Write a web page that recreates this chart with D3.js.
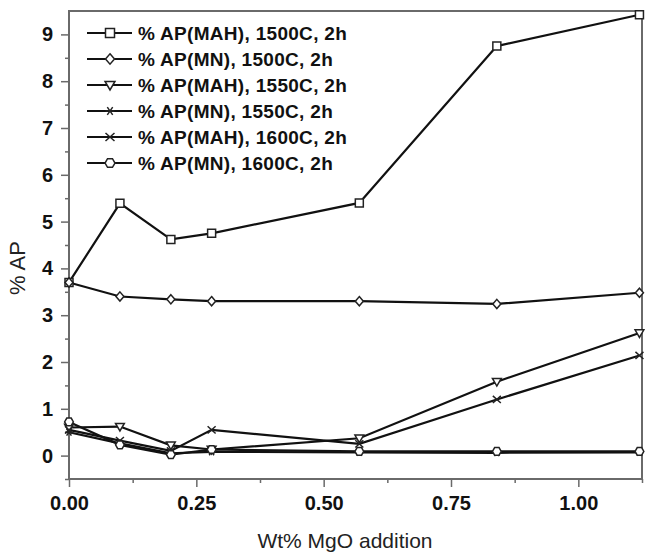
<!DOCTYPE html>
<html><head><meta charset="utf-8">
<script src="https://cdn.jsdelivr.net/npm/d3@7"></script>
<style>body{margin:0;background:#fff}</style>
</head><body><svg id="c" width="645" height="554"></svg>
<script>
const xValues = [0, 0.1, 0.2, 0.28, 0.57, 0.84, 1.12];
const mah1500 = [3.70, 5.39, 4.62, 4.75, 5.40, 8.75, 9.42];
const mn1500  = [3.70, 3.40, 3.34, 3.30, 3.30, 3.24, 3.48];
const mah1550 = [0.60, 0.62, 0.22, 0.13, 0.37, 1.58, 2.62];
const mn1550  = [0.50, 0.26, 0.05, 0.08, 0.07, 0.06, 0.07];
const mah1600 = [0.55, 0.32, 0.10, 0.55, 0.25, 1.20, 2.14];
const mn1600  = [0.72, 0.23, 0.02, 0.13, 0.09, 0.09, 0.09];
const seriesNames = ["% AP(MAH), 1500C, 2h","% AP(MN), 1500C, 2h","% AP(MAH), 1550C, 2h","% AP(MN), 1550C, 2h","% AP(MAH), 1600C, 2h","% AP(MN), 1600C, 2h"];
const seriesMarkers = ["square","diamond","triangle","asterisk","cross","hexagon"];
const xTicks = [0, 0.25, 0.5, 0.75, 1.0];
const xMinor = [0.125, 0.375, 0.625, 0.875, 1.125];
const yTicks = [0,1,2,3,4,5,6,7,8,9];
const yMinor = [-0.5,0.5,1.5,2.5,3.5,4.5,5.5,6.5,7.5,8.5];
const xTitle = "Wt% MgO addition";
const yTitle = "% AP";

const allSeries = [mah1500, mn1500, mah1550, mn1550, mah1600, mn1600];
const svg = d3.select("#c");
const L = 69, R = 642, T = 11, B = 479;
const x = d3.scaleLinear().domain([0, 1.125]).range([L, R]);
const y = d3.scaleLinear().domain([-0.5, 9.5]).range([B, T]);
const axisColor = "#6a6a6a";

function markerPath(type, s) {
  const h = s / 2;
  switch (type) {
    case "square": return `M${-h},${-h}H${h}V${h}H${-h}Z`;
    case "diamond": return `M0,${-h*1.15}L${h*1.0},0L0,${h*1.15}L${-h*1.0},0Z`;
    case "triangle": return `M${-h*1.1},${-h*0.8}L${h*1.1},${-h*0.8}L0,${h*1.1}Z`;
    case "asterisk": {
      let p = `M${-h},0L${h},0`;
      p += `M${-h*0.6},${-h*0.85}L${h*0.6},${h*0.85}M${h*0.6},${-h*0.85}L${-h*0.6},${h*0.85}`;
      return p;
    }
    case "cross": return `M${-h},${-h*0.9}L${h},${h*0.9}M${h},${-h*0.9}L${-h},${h*0.9}`;
    case "hexagon": {
      const pts = d3.range(6).map(i => { const a = Math.PI/3*i; return [h*1.1*Math.cos(a), h*1.1*Math.sin(a)]; });
      return "M" + pts.map(p => p.join(",")).join("L") + "Z";
    }
  }
}

// frame
svg.append("rect").attr("x", L).attr("y", T).attr("width", R - L).attr("height", B - T)
  .attr("fill", "none").attr("stroke", axisColor).attr("stroke-width", 2);

// y axis
const yAx = svg.append("g").attr("transform", `translate(${L},0)`)
  .call(d3.axisLeft(y).tickValues(yTicks).tickSize(8).tickSizeOuter(0).tickPadding(8).tickFormat(d3.format("d")));
yAx.select(".domain").remove();
yAx.selectAll("line").attr("stroke", axisColor).attr("stroke-width", 1.5);
yAx.selectAll("text").attr("font-family", "Liberation Sans, Arial, sans-serif").attr("font-weight", "bold").attr("font-size", 20).attr("fill", "#111");
const yMin = svg.append("g").attr("transform", `translate(${L},0)`)
  .call(d3.axisLeft(y).tickValues(yMinor).tickSize(4).tickSizeOuter(0).tickFormat(""));
yMin.select(".domain").remove();
yMin.selectAll("line").attr("stroke", axisColor).attr("stroke-width", 1.5);

// x axis
const xAx = svg.append("g").attr("transform", `translate(0,${B})`)
  .call(d3.axisBottom(x).tickValues(xTicks).tickSize(8).tickSizeOuter(0).tickPadding(9).tickFormat(d3.format(".2f")));
xAx.select(".domain").remove();
xAx.selectAll("line").attr("stroke", axisColor).attr("stroke-width", 1.5);
xAx.selectAll("text").attr("font-family", "Liberation Sans, Arial, sans-serif").attr("font-weight", "bold").attr("font-size", 20).attr("fill", "#111");
const xMin = svg.append("g").attr("transform", `translate(0,${B})`)
  .call(d3.axisBottom(x).tickValues(xMinor).tickSize(4).tickSizeOuter(0).tickFormat(""));
xMin.select(".domain").remove();
xMin.selectAll("line").attr("stroke", axisColor).attr("stroke-width", 1.5);

// titles
svg.append("text").attr("x", 345).attr("y", 548).attr("text-anchor", "middle")
  .attr("font-family", "Liberation Sans, Arial, sans-serif").attr("font-size", 21).attr("fill", "#222").text(xTitle);
svg.append("text").attr("transform", "translate(25,268) rotate(-90)").attr("text-anchor", "middle")
  .attr("font-family", "Liberation Sans, Arial, sans-serif").attr("font-size", 22).attr("fill", "#222").text(yTitle);

// lines
const line = d3.line().x((d, i) => x(xValues[i])).y(d => y(d));
const plot = svg.append("g");
allSeries.forEach((s, k) => {
  plot.append("path").datum(s).attr("d", line).attr("fill", "none").attr("stroke", "#111").attr("stroke-width", 2.2);
});
allSeries.forEach((s, k) => {
  const m = seriesMarkers[k];
  const open = !(m === "asterisk" || m === "cross");
  plot.selectAll(null).data(s).enter().append("path")
    .attr("transform", (d, i) => `translate(${x(xValues[i])},${y(d)})`)
    .attr("d", markerPath(m, 8))
    .attr("fill", open ? "#fff" : "none").attr("stroke", "#222").attr("stroke-width", 1.5);
});

// legend
const lg = svg.append("g");
seriesNames.forEach((n, k) => {
  const yy = 33 + k * 26;
  lg.append("line").attr("x1", 87).attr("x2", 132).attr("y1", yy).attr("y2", yy).attr("stroke", "#111").attr("stroke-width", 2.2);
  const m = seriesMarkers[k];
  const open = !(m === "asterisk" || m === "cross");
  lg.append("path").attr("transform", `translate(110,${yy})`).attr("d", markerPath(m, 9))
    .attr("fill", open ? "#fff" : "none").attr("stroke", "#222").attr("stroke-width", 1.5);
  lg.append("text").attr("x", 138).attr("y", yy + 7)
    .attr("font-family", "Liberation Sans, Arial, sans-serif").attr("font-weight", "bold").attr("font-size", 19)
    .attr("letter-spacing", 0.3).attr("fill", "#111").text(n);
});
</script></body></html>
